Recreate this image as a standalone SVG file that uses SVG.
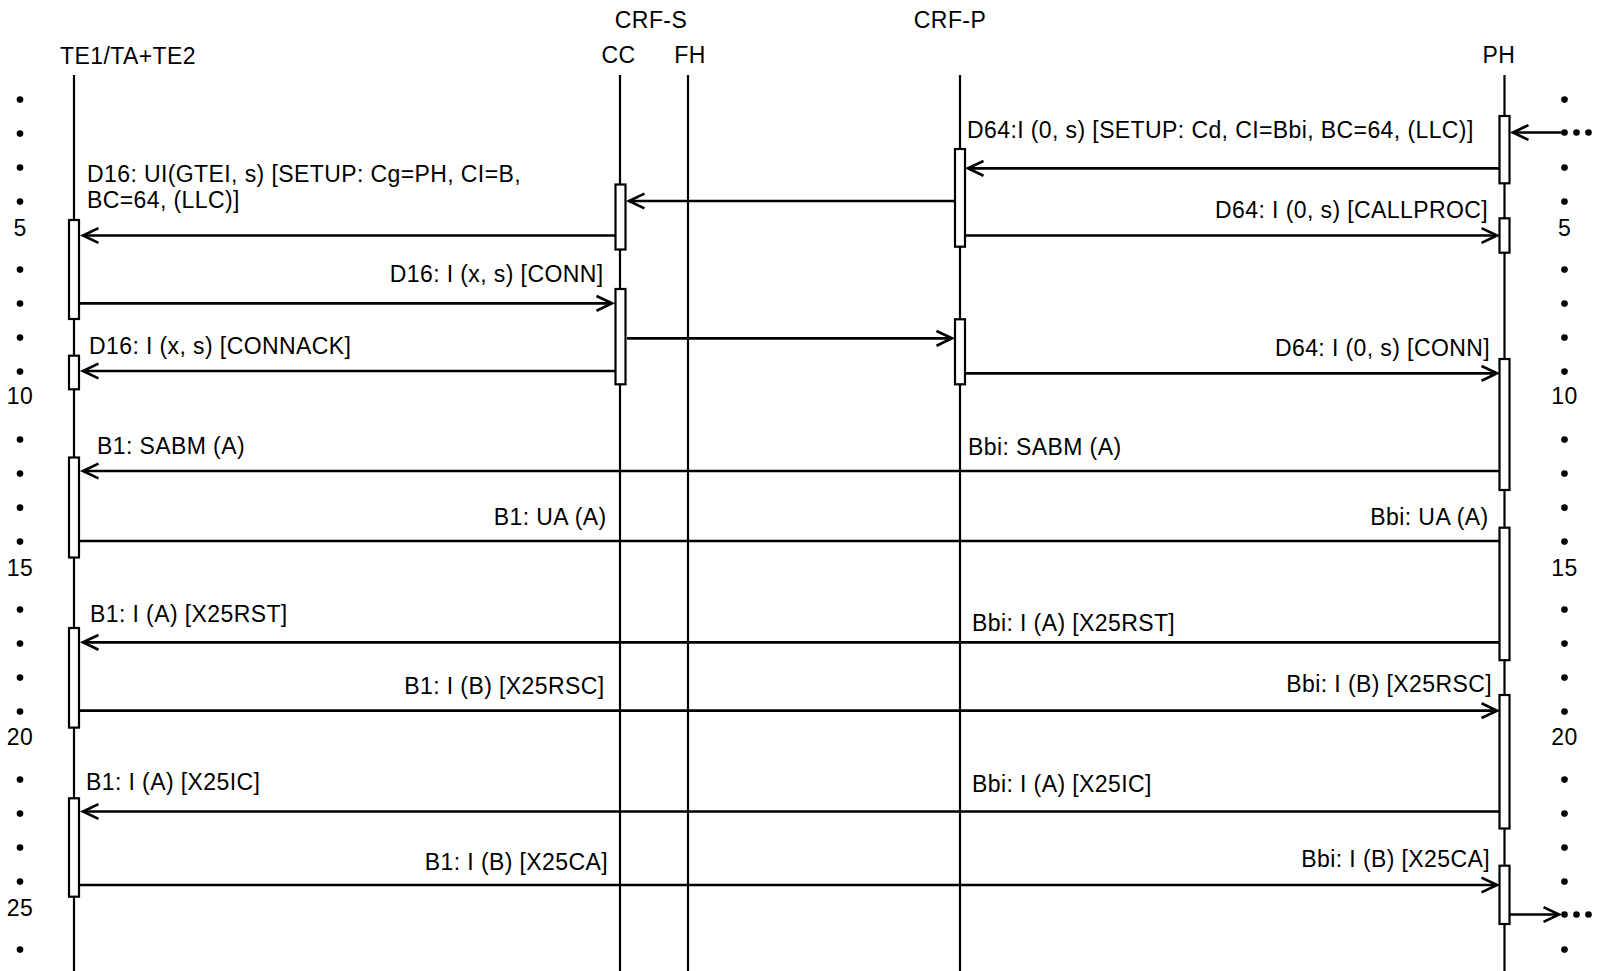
<svg xmlns="http://www.w3.org/2000/svg" width="1598" height="971" viewBox="0 0 1598 971">
<style>
text{font-family:"Liberation Sans",Arial,sans-serif;font-size:23px;letter-spacing:0.4px;fill:#000}
.e{text-anchor:end}
.m{text-anchor:middle}
.life{stroke:#000;stroke-width:2.2;fill:none}
.box{fill:#fff;stroke:#000;stroke-width:2.2}
.msg{stroke:#000;stroke-width:2.7;fill:none}
.arr{marker-end:url(#ah)}
.dot{fill:#000}
</style>
<defs>
<marker id="ah" markerWidth="22" markerHeight="20" refX="16" refY="8" orient="auto" markerUnits="userSpaceOnUse" viewBox="0 0 22 16">
<path d="M0.5,0.6 L16,8 L0.5,15.4" fill="none" stroke="#000" stroke-width="2.7" stroke-linejoin="miter"/>
</marker>
</defs>
<rect width="1598" height="971" fill="#fff"/>

<g id="row-numbers">
<circle class="dot" cx="20" cy="99.6" r="3.3"/>
<circle class="dot" cx="20" cy="133.6" r="3.3"/>
<circle class="dot" cx="20" cy="167.6" r="3.3"/>
<circle class="dot" cx="20" cy="201.6" r="3.3"/>
<text class="m" x="20" y="235.6">5</text>
<circle class="dot" cx="20" cy="269.6" r="3.3"/>
<circle class="dot" cx="20" cy="303.6" r="3.3"/>
<circle class="dot" cx="20" cy="337.6" r="3.3"/>
<circle class="dot" cx="20" cy="371.6" r="3.3"/>
<text class="m" x="20" y="404">10</text>
<circle class="dot" cx="20" cy="439.6" r="3.3"/>
<circle class="dot" cx="20" cy="473.6" r="3.3"/>
<circle class="dot" cx="20" cy="507.6" r="3.3"/>
<circle class="dot" cx="20" cy="541.6" r="3.3"/>
<text class="m" x="20" y="575.6">15</text>
<circle class="dot" cx="20" cy="609.6" r="3.3"/>
<circle class="dot" cx="20" cy="643.6" r="3.3"/>
<circle class="dot" cx="20" cy="677.6" r="3.3"/>
<circle class="dot" cx="20" cy="711.6" r="3.3"/>
<text class="m" x="20" y="745">20</text>
<circle class="dot" cx="20" cy="779.6" r="3.3"/>
<circle class="dot" cx="20" cy="813.6" r="3.3"/>
<circle class="dot" cx="20" cy="847.6" r="3.3"/>
<circle class="dot" cx="20" cy="881.6" r="3.3"/>
<text class="m" x="20" y="915.6">25</text>
<circle class="dot" cx="20" cy="949.6" r="3.3"/>

<circle class="dot" cx="1564.5" cy="99.6" r="3.3"/>
<circle class="dot" cx="1564.5" cy="132.5" r="3.3"/>
<circle class="dot" cx="1576.5" cy="132.5" r="3.3"/>
<circle class="dot" cx="1588.5" cy="132.5" r="3.3"/>
<circle class="dot" cx="1564.5" cy="167.6" r="3.3"/>
<circle class="dot" cx="1564.5" cy="201.6" r="3.3"/>
<text class="m" x="1564.5" y="235.6">5</text>
<circle class="dot" cx="1564.5" cy="269.6" r="3.3"/>
<circle class="dot" cx="1564.5" cy="303.6" r="3.3"/>
<circle class="dot" cx="1564.5" cy="337.6" r="3.3"/>
<circle class="dot" cx="1564.5" cy="371.6" r="3.3"/>
<text class="m" x="1564.5" y="404">10</text>
<circle class="dot" cx="1564.5" cy="439.6" r="3.3"/>
<circle class="dot" cx="1564.5" cy="473.6" r="3.3"/>
<circle class="dot" cx="1564.5" cy="507.6" r="3.3"/>
<circle class="dot" cx="1564.5" cy="541.6" r="3.3"/>
<text class="m" x="1564.5" y="575.6">15</text>
<circle class="dot" cx="1564.5" cy="609.6" r="3.3"/>
<circle class="dot" cx="1564.5" cy="643.6" r="3.3"/>
<circle class="dot" cx="1564.5" cy="677.6" r="3.3"/>
<circle class="dot" cx="1564.5" cy="711.6" r="3.3"/>
<text class="m" x="1564.5" y="745">20</text>
<circle class="dot" cx="1564.5" cy="779.6" r="3.3"/>
<circle class="dot" cx="1564.5" cy="813.6" r="3.3"/>
<circle class="dot" cx="1564.5" cy="847.6" r="3.3"/>
<circle class="dot" cx="1564.5" cy="881.6" r="3.3"/>
<circle class="dot" cx="1564.5" cy="914.5" r="3.3"/>
<circle class="dot" cx="1576.5" cy="914.5" r="3.3"/>
<circle class="dot" cx="1588.5" cy="914.5" r="3.3"/>
<circle class="dot" cx="1564.5" cy="949.6" r="3.3"/>
</g>

<g id="group-labels">
<text class="m" x="651" y="28">CRF-S</text>
<text class="m" x="950" y="28">CRF-P</text>
</g>

<g id="TE1">
<text x="60" y="64">TE1/TA+TE2</text>
<line class="life" x1="74" y1="75" x2="74" y2="971"/>
</g>
<g id="CC">
<text class="m" x="618.5" y="63">CC</text>
<line class="life" x1="620" y1="75" x2="620" y2="971"/>
</g>
<g id="FH">
<text class="m" x="690" y="63">FH</text>
<line class="life" x1="688" y1="75" x2="688" y2="971"/>
</g>
<g id="CRF-P">
<line class="life" x1="960" y1="75" x2="960" y2="971"/>
</g>
<g id="PH">
<text class="m" x="1499" y="63">PH</text>
<line class="life" x1="1504.5" y1="75" x2="1504.5" y2="971"/>
</g>

<g id="connectors">
<line class="msg" x1="1563" y1="132.5" x2="1513" y2="132.5" marker-end="url(#ah)"/>
<line class="msg arr" x1="1499" y1="168.3" x2="968" y2="168.3"/>
<line class="msg arr" x1="954" y1="201" x2="629" y2="201"/>
<line class="msg arr" x1="615" y1="235.5" x2="83" y2="235.5"/>
<line class="msg arr" x1="966" y1="235.5" x2="1497" y2="235.5"/>
<line class="msg arr" x1="80" y1="303.3" x2="612" y2="303.3"/>
<line class="msg arr" x1="627" y1="338.3" x2="952" y2="338.3"/>
<line class="msg arr" x1="615" y1="371" x2="83" y2="371"/>
<line class="msg arr" x1="966" y1="373.3" x2="1497" y2="373.3"/>
<line class="msg arr" x1="1499" y1="471" x2="83" y2="471"/>
<line class="msg" x1="80" y1="541" x2="1499" y2="541"/>
<line class="msg arr" x1="1499" y1="642.3" x2="83" y2="642.3"/>
<line class="msg arr" x1="80" y1="710.7" x2="1497" y2="710.7"/>
<line class="msg arr" x1="1499" y1="811.5" x2="83" y2="811.5"/>
<line class="msg arr" x1="80" y1="885" x2="1497" y2="885"/>
<line class="msg arr" x1="1510" y1="914.5" x2="1559" y2="914.5"/>
</g>

<g id="activations">
<rect class="box" x="69" y="220" width="10" height="99"/>
<rect class="box" x="69" y="355.7" width="10" height="33.6"/>
<rect class="box" x="69" y="457.5" width="10" height="100"/>
<rect class="box" x="69" y="628" width="10" height="99.6"/>
<rect class="box" x="69" y="798.3" width="10" height="98.4"/>
<rect class="box" x="615.5" y="184.5" width="10" height="65"/>
<rect class="box" x="615.5" y="289" width="10" height="95.3"/>
<rect class="box" x="955" y="149" width="10" height="97.7"/>
<rect class="box" x="955" y="319.3" width="10" height="65"/>
<rect class="box" x="1499.5" y="116" width="10" height="67.3"/>
<rect class="box" x="1499.5" y="218.3" width="10" height="34.4"/>
<rect class="box" x="1499.5" y="359" width="10" height="131"/>
<rect class="box" x="1499.5" y="527.7" width="10" height="132.5"/>
<rect class="box" x="1499.5" y="695" width="10" height="133.5"/>
<rect class="box" x="1499.5" y="865.7" width="10" height="58.3"/>
</g>

<g id="labels">
<text x="967" y="138">D64:I (0, s) [SETUP: Cd, CI=Bbi, BC=64, (LLC)]</text>
<text x="87" y="182">D16: UI(GTEI, s) [SETUP: Cg=PH, CI=B,</text>
<text x="87" y="208">BC=64, (LLC)]</text>
<text class="e" x="1488" y="218">D64: I (0, s) [CALLPROC]</text>
<text class="e" x="603.5" y="282">D16: I (x, s) [CONN]</text>
<text x="89" y="354">D16: I (x, s) [CONNACK]</text>
<text class="e" x="1490" y="356">D64: I (0, s) [CONN]</text>
<text x="97" y="454">B1: SABM (A)</text>
<text x="968" y="455">Bbi: SABM (A)</text>
<text class="e" x="606.5" y="525">B1: UA (A)</text>
<text class="e" x="1488.5" y="525">Bbi: UA (A)</text>
<text x="90" y="622">B1: I (A) [X25RST]</text>
<text x="972" y="631">Bbi: I (A) [X25RST]</text>
<text class="e" x="604.5" y="694">B1: I (B) [X25RSC]</text>
<text class="e" x="1492" y="692">Bbi: I (B) [X25RSC]</text>
<text x="86" y="790">B1: I (A) [X25IC]</text>
<text x="972" y="792">Bbi: I (A) [X25IC]</text>
<text class="e" x="608" y="870">B1: I (B) [X25CA]</text>
<text class="e" x="1490" y="867">Bbi: I (B) [X25CA]</text>
</g>
</svg>
